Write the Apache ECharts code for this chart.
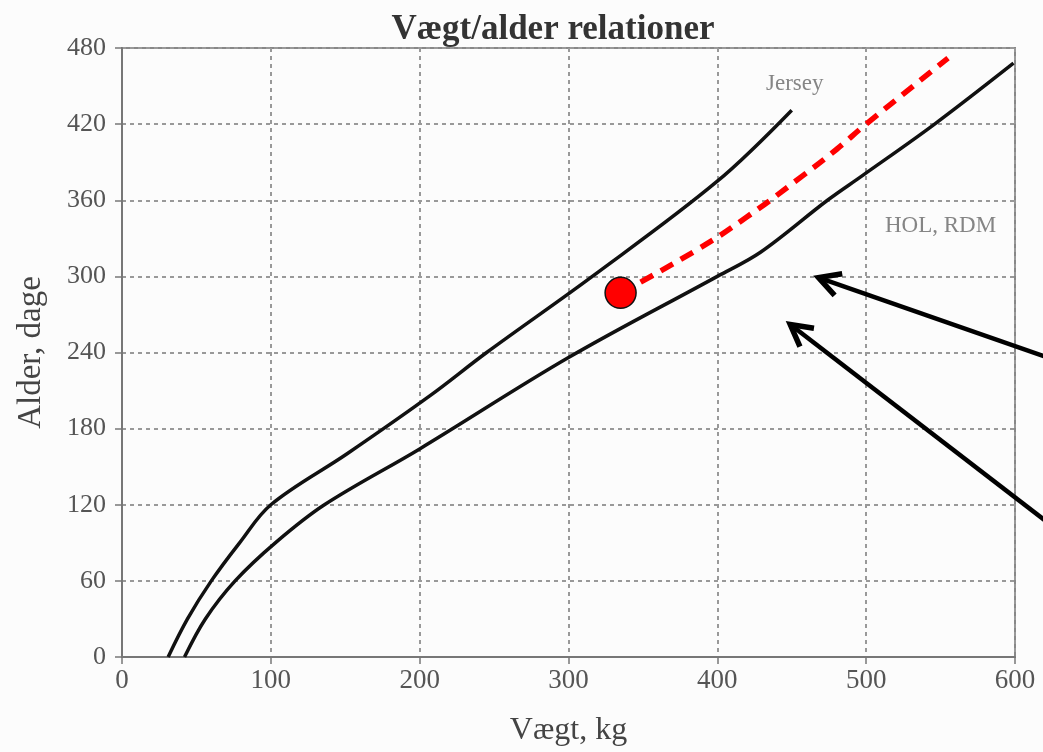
<!DOCTYPE html>
<html>
<head>
<meta charset="utf-8">
<script src="https://cdn.jsdelivr.net/npm/echarts@6/dist/echarts.min.js"></script>
<style>
  html, body { margin: 0; padding: 0; background: #fcfcfc; }
  #chart { width: 1043px; height: 752px; }
</style>
</head>
<body>
<div id="chart"></div>
<script>
// kurver (vægt kg, alder dage)
var jerseyKg   = [31, 44, 60, 79, 100, 151, 207, 245, 316, 400, 450];
var jerseyDays = [0, 30, 60, 90, 120, 160, 206, 240, 300, 375, 431];

var holKg   = [42, 56, 76, 103, 136, 200, 300, 400, 429, 474, 497, 546, 599];
var holDays = [0, 30, 60, 90, 120, 164, 236, 300, 319, 360, 379, 420, 468];

var redKg   = [335, 385, 420, 457, 480, 500, 555];
var redDays = [287, 320, 347, 379, 400, 420, 472];

var startPoint = [335, 287];

// pile: [fra kg, fra dage, til kg, til dage]
var arrows = [
  [622, 236, 468, 299],
  [622, 106, 449, 262]
];

var curveLabels = [
  [452, 452, 'Jersey'],
  [550, 340, 'HOL, RDM']
];

var xTicks = [0, 100, 200, 300, 400, 500, 600];
var yTicks = [0, 60, 120, 180, 240, 300, 360, 420, 480];

function zip(a, b){ return a.map(function(v, i){ return [v, b[i]]; }); }

var serif = '"Liberation Serif", "DejaVu Serif", serif';
var chart = echarts.init(document.getElementById('chart'));

var option = {
  backgroundColor: '#fcfcfc',
  animation: false,
  title: {
    text: 'Vægt/alder relationer',
    left: 548, top: 7, textAlign: 'center',
    textStyle: { fontFamily: serif, fontSize: 35, fontWeight: 'bold', color: '#333' }
  },
  grid: { left: 122, right: 28, top: 48, bottom: 92, show: true, borderColor: '#888', borderWidth: 2, backgroundColor: 'transparent' },
  xAxis: {
    type: 'value', min: xTicks[0], max: xTicks[xTicks.length - 1], interval: 100,
    name: 'Vægt, kg', nameLocation: 'middle', nameGap: 58,
    nameTextStyle: { fontFamily: serif, fontSize: 32, color: '#444' },
    axisLine: { show: true, lineStyle: { color: '#777', width: 2 } },
    axisTick: { show: true, length: 7, lineStyle: { color: '#777', width: 1.5 } },
    axisLabel: { fontFamily: serif, fontSize: 27, color: '#555', margin: 10 },
    splitLine: { show: true, lineStyle: { color: '#999', type: [4, 4], width: 2 } }
  },
  yAxis: {
    type: 'value', min: yTicks[0], max: yTicks[yTicks.length - 1], interval: 60,
    name: 'Alder, dage', nameLocation: 'middle', nameGap: 74,
    nameTextStyle: { fontFamily: serif, fontSize: 33, color: '#444' },
    axisLine: { show: true, lineStyle: { color: '#777', width: 2 } },
    axisTick: { show: true, length: 7, lineStyle: { color: '#777', width: 1.5 } },
    axisLabel: { fontFamily: serif, fontSize: 26, color: '#555', margin: 16 },
    splitLine: { show: true, lineStyle: { color: '#999', type: [4, 4], width: 2 } }
  },
  series: [
    {
      name: 'Jersey', type: 'line', data: zip(jerseyKg, jerseyDays),
      smooth: 0.35, showSymbol: false,
      lineStyle: { color: '#111', width: 3.5 }, z: 3
    },
    {
      name: 'HOL, RDM', type: 'line', data: zip(holKg, holDays),
      smooth: 0.35, showSymbol: false,
      lineStyle: { color: '#111', width: 3.5 }, z: 3
    },
    {
      name: 'Forløb', type: 'line', data: zip(redKg, redDays),
      smooth: 0.5, showSymbol: false,
      lineStyle: { color: '#ff0000', width: 5.5, type: [14, 9] }, z: 4
    },
    {
      type: 'scatter', data: [startPoint], symbolSize: 31,
      itemStyle: { color: '#f00', opacity: 1, borderColor: '#111', borderWidth: 1.5 }, z: 6
    },
    {
      type: 'scatter', data: curveLabels, symbolSize: 0, z: 5,
      label: {
        show: true, position: 'inside', formatter: function(p){ return p.value[2]; },
        fontFamily: serif, fontSize: 23, color: '#666'
      }
    },
    {
      type: 'custom', data: arrows, clip: false, z: 7,
      encode: { x: [0, 2], y: [1, 3] },
      renderItem: function(params, api){
        var p0 = api.coord([api.value(0), api.value(1)]);
        var p1 = api.coord([api.value(2), api.value(3)]);
        var ang = Math.atan2(p1[1] - p0[1], p1[0] - p0[0]);
        var h = 24, s = 0.5;
        var a = [p1[0] - h * Math.cos(ang - s), p1[1] - h * Math.sin(ang - s)];
        var b = [p1[0] - h * Math.cos(ang + s), p1[1] - h * Math.sin(ang + s)];
        return {
          type: 'group',
          children: [
            { type: 'line', shape: { x1: p0[0], y1: p0[1], x2: p1[0], y2: p1[1] },
              style: { stroke: '#000', lineWidth: 4.5 } },
            { type: 'polyline', shape: { points: [a, p1, b] },
              style: { stroke: '#000', lineWidth: 5.5, fill: null, lineJoin: 'miter' } }
          ]
        };
      }
    }
  ]
};

chart.setOption(option);
</script>
</body>
</html>
